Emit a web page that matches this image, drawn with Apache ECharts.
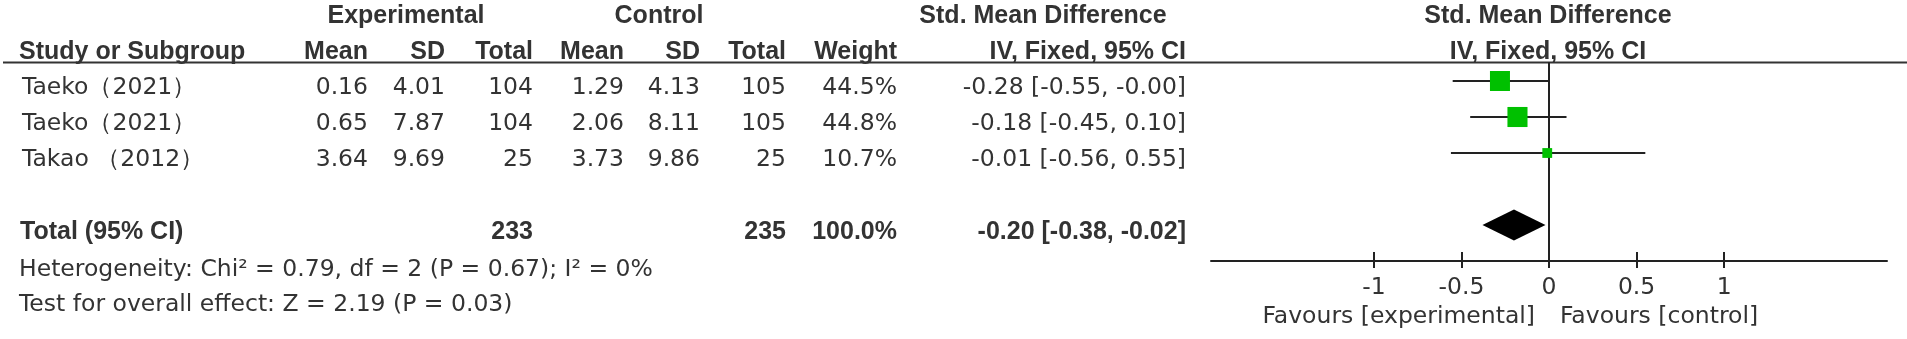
<!DOCTYPE html>
<html><head><meta charset="utf-8">
<script src="https://cdn.jsdelivr.net/npm/echarts@6/dist/echarts.min.js"></script>
<style>html,body{margin:0;padding:0;background:#fff}#c{width:1907px;height:339px}</style>
</head><body><div id="c"></div>
<script>
// ---------- data ----------
const studies = ['Taeko（2021）', 'Taeko（2021）', 'Takao （2012）'];
const expMean = [0.16, 0.65, 3.64];
const expSD = [4.01, 7.87, 9.69];
const expTotal = [104, 104, 25];
const ctrlMean = [1.29, 2.06, 3.73];
const ctrlSD = [4.13, 8.11, 9.86];
const ctrlTotal = [105, 105, 25];
const weightPct = [44.5, 44.8, 10.7];
const smd = [-0.28, -0.18, -0.01];
const ciLower = [-0.55, -0.45, -0.56];
const ciUpper = [-0.00, 0.10, 0.55];
const totalLabel = 'Total (95% CI)';
const totalExp = 233;
const totalCtrl = 235;
const totalWeight = 100.0;
const pooledSmd = -0.20;
const pooledLower = -0.38;
const pooledUpper = -0.02;
const axisTicks = [-1, -0.5, 0, 0.5, 1];
const heterogeneityText = 'Heterogeneity: Chi² = 0.79, df = 2 (P = 0.67); I² = 0%';
const overallEffectText = 'Test for overall effect: Z = 2.19 (P = 0.03)';
const favoursLeft = 'Favours [experimental]';
const favoursRight = 'Favours [control]';
const groupHeaders = ['Experimental', 'Control', 'Std. Mean Difference', 'Std. Mean Difference'];
const colHeaders = ['Study or Subgroup', 'Mean', 'SD', 'Total', 'Mean', 'SD', 'Total', 'Weight', 'IV, Fixed, 95% CI', 'IV, Fixed, 95% CI'];

// ---------- layout / style ----------
const TOTAL_ROW = 4;
const REG = '23.5px "DejaVu Sans", sans-serif';
const BOLD = 'bold 25px "Liberation Sans", Arial, sans-serif';
const TXT = '#333';
const col = {study: 20, expMean: 368, expSD: 445, expTotal: 533, ctrlMean: 624, ctrlSD: 700, ctrlTotal: 786, weight: 897, ci: 1186};
const TEXT_DY = 7;

function fmt2(v) { return ((v < 0 || Object.is(v, -0)) ? '-' : '') + Math.abs(v).toFixed(2); }
function ciText(e, l, u) { return fmt2(e) + ' [' + fmt2(l) + ', ' + fmt2(u) + ']'; }
function txt(text, x, y, align, font) {
  return {type: 'text', style: {text: text, x: x, y: y, align: align, textAlign: align,
    verticalAlign: 'middle', textVerticalAlign: 'middle', font: font, fill: TXT}};
}

const chart = echarts.init(document.getElementById('c'), null, {renderer: 'canvas'});

const tableData = studies.map((s, i) => [0, i]).concat([[0, TOTAL_ROW]]);

const option = {
  animation: false,
  backgroundColor: '#fff',
  grid: {left: 1211, right: 20, top: 63, height: 198, containLabel: false, outerBoundsMode: 'none'},
  xAxis: [{
    type: 'value', min: -1.93, max: 1.93, position: 'bottom',
    axisLine: {show: true, onZero: false, lineStyle: {color: '#222', width: 2}},
    axisTick: {show: true, inside: true, length: 9, customValues: axisTicks, lineStyle: {color: '#222', width: 2}},
    axisLabel: {show: true, customValues: axisTicks, margin: 15, fontSize: 23.5, fontFamily: '"DejaVu Sans", sans-serif', color: TXT,
      formatter: v => String(v)},
    splitLine: {show: false}
  }, {
    type: 'value', min: -1.93, max: 1.93, position: 'bottom',
    axisLine: {show: false, onZero: false},
    axisTick: {show: true, inside: false, length: 7, customValues: axisTicks, lineStyle: {color: '#222', width: 2}},
    axisLabel: {show: false},
    splitLine: {show: false}
  }],
  yAxis: {
    type: 'value', min: -0.5, max: 5, inverse: true,
    axisLine: {show: true, onZero: true, onZeroAxisIndex: 0, lineStyle: {color: '#222', width: 2}},
    axisTick: {show: false}, axisLabel: {show: false}, splitLine: {show: false}
  },
  graphic: [].concat(
    [
      txt(groupHeaders[0], 406, 16, 'center', BOLD),
      txt(groupHeaders[1], 659, 16, 'center', BOLD),
      txt(groupHeaders[2], 1043, 16, 'center', BOLD),
      txt(groupHeaders[3], 1548, 16, 'center', BOLD),
      txt(colHeaders[0], 19, 52, 'left', BOLD),
      txt(colHeaders[1], col.expMean, 52, 'right', BOLD),
      txt(colHeaders[2], col.expSD, 52, 'right', BOLD),
      txt(colHeaders[3], col.expTotal, 52, 'right', BOLD),
      txt(colHeaders[4], col.ctrlMean, 52, 'right', BOLD),
      txt(colHeaders[5], col.ctrlSD, 52, 'right', BOLD),
      txt(colHeaders[6], col.ctrlTotal, 52, 'right', BOLD),
      txt(colHeaders[7], col.weight, 52, 'right', BOLD),
      txt(colHeaders[8], col.ci, 52, 'right', BOLD),
      txt(colHeaders[9], 1548, 52, 'center', BOLD),
      {type: 'line', shape: {x1: 3, y1: 62.5, x2: 1907, y2: 62.5}, style: {stroke: '#333', lineWidth: 2}},
      txt(heterogeneityText, 19, 270, 'left', REG),
      txt(overallEffectText, 19, 305, 'left', REG),
      txt(favoursLeft, 1535, 317, 'right', REG),
      txt(favoursRight, 1560, 317, 'left', REG)
    ]
  ),
  series: [
    {
      // study table cells
      type: 'custom', coordinateSystem: 'cartesian2d', xAxisIndex: 0, yAxisIndex: 0,
      data: tableData, clip: false, silent: true,
      renderItem: function (params, api) {
        const i = params.dataIndex;
        const row = api.value(1);
        const y = api.coord([0, row])[1] + TEXT_DY;
        let cells;
        if (row === TOTAL_ROW) {
          cells = [
            [totalLabel, col.study, 'left'],
            [String(totalExp), col.expTotal, 'right'],
            [String(totalCtrl), col.ctrlTotal, 'right'],
            [totalWeight.toFixed(1) + '%', col.weight, 'right'],
            [ciText(pooledSmd, pooledLower, pooledUpper), col.ci, 'right']
          ];
          return {type: 'group', children: cells.map(c => txt(c[0], c[1], y, c[2], BOLD))};
        }
        cells = [
          [studies[i], col.study + 2, 'left'],
          [expMean[i].toFixed(2), col.expMean, 'right'],
          [expSD[i].toFixed(2), col.expSD, 'right'],
          [String(expTotal[i]), col.expTotal, 'right'],
          [ctrlMean[i].toFixed(2), col.ctrlMean, 'right'],
          [ctrlSD[i].toFixed(2), col.ctrlSD, 'right'],
          [String(ctrlTotal[i]), col.ctrlTotal, 'right'],
          [weightPct[i].toFixed(1) + '%', col.weight, 'right'],
          [ciText(smd[i], ciLower[i], ciUpper[i]), col.ci, 'right']
        ];
        return {type: 'group', children: cells.map(c => txt(c[0], c[1], y, c[2], REG))};
      }
    },
    {
      // CI lines and weighted squares
      type: 'custom', coordinateSystem: 'cartesian2d', xAxisIndex: 0, yAxisIndex: 0,
      data: smd.map((v, i) => [v, i, ciLower[i], ciUpper[i], weightPct[i]]), clip: false, silent: true,
      renderItem: function (params, api) {
        const row = api.value(1);
        const lo = api.coord([api.value(2), row]);
        const hi = api.coord([api.value(3), row]);
        const c = api.coord([api.value(0), row]);
        const s = Math.sqrt(api.value(4)) * 3;
        return {type: 'group', children: [
          {type: 'line', shape: {x1: lo[0], y1: lo[1], x2: hi[0], y2: hi[1]}, style: {stroke: '#222', lineWidth: 2}},
          {type: 'rect', shape: {x: c[0] - s / 2, y: c[1] - s / 2, width: s, height: s}, style: {fill: '#00c000'}}
        ]};
      }
    },
    {
      // pooled diamond
      type: 'custom', coordinateSystem: 'cartesian2d', xAxisIndex: 0, yAxisIndex: 0,
      data: [[pooledSmd, TOTAL_ROW, pooledLower, pooledUpper]], clip: false, silent: true,
      renderItem: function (params, api) {
        const row = api.value(1);
        const lo = api.coord([api.value(2), row]);
        const hi = api.coord([api.value(3), row]);
        const c = api.coord([api.value(0), row]);
        const h = 15.5;
        return {type: 'polygon', shape: {points: [[lo[0], c[1]], [c[0], c[1] - h], [hi[0], c[1]], [c[0], c[1] + h]]},
          style: {fill: '#000'}};
      }
    }
  ]
};
chart.setOption(option);
</script>
</body></html>
